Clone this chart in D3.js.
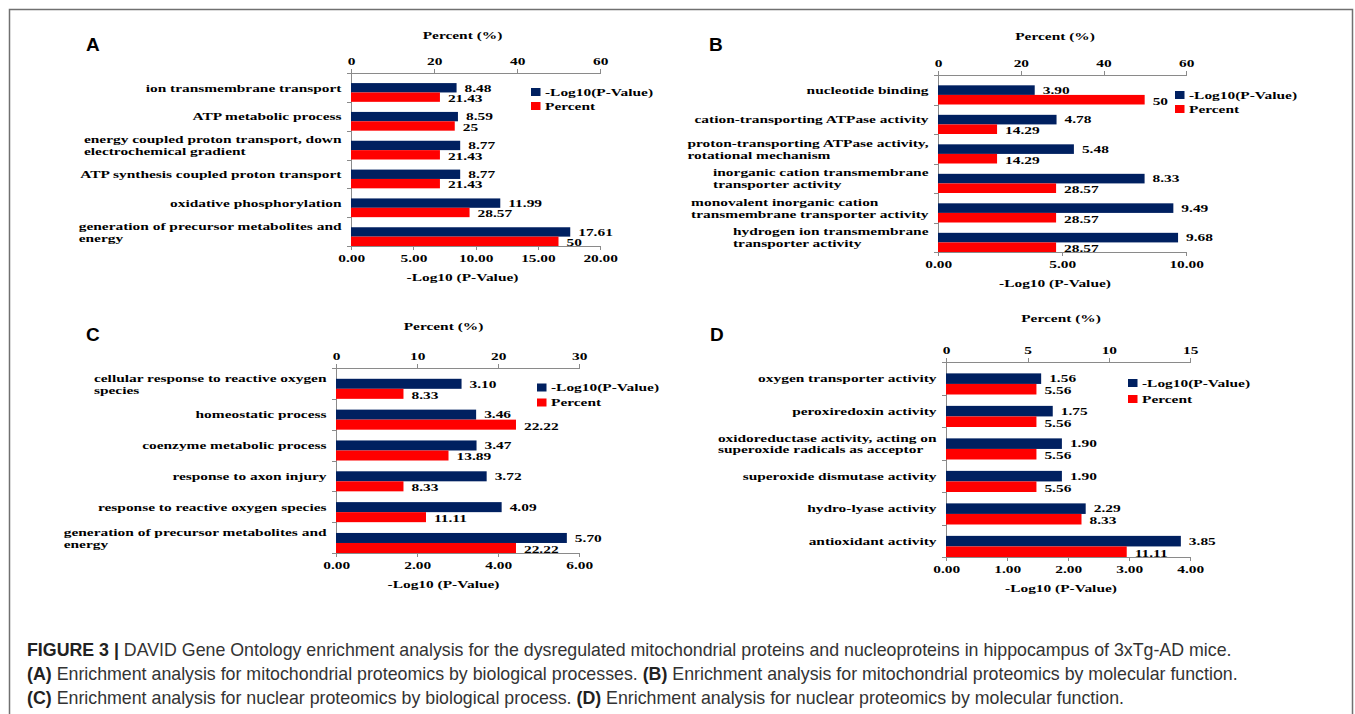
<!DOCTYPE html>
<html>
<head>
<meta charset="utf-8">
<script src="https://cdn.jsdelivr.net/npm/d3@7"></script>
<style>
  body { margin: 0; background: #fff; }
  .serif text { font-family: "Liberation Serif", "Times New Roman", serif; font-weight: bold; font-size: 11px; fill: #000; }
  .ax path, .ax line { stroke: #8a8a8a; vector-effect: non-scaling-stroke; shape-rendering: crispEdges; }
</style>
</head>
<body>
<svg id="fig" width="1355" height="714"></svg>
<script>
// ---- data ----
const catsA = ["ion transmembrane transport", "ATP metabolic process",
  "energy coupled proton transport, down\nelectrochemical gradient",
  "ATP synthesis coupled proton transport", "oxidative phosphorylation",
  "generation of precursor metabolites and\nenergy"];
const pvalA = [8.48, 8.59, 8.77, 8.77, 11.99, 17.61];
const pctA = [21.43, 25, 21.43, 21.43, 28.57, 50];

const catsB = ["nucleotide binding", "cation-transporting ATPase activity",
  "proton-transporting ATPase activity,\nrotational mechanism",
  "inorganic cation transmembrane\ntransporter activity",
  "monovalent inorganic cation\ntransmembrane transporter activity",
  "hydrogen ion transmembrane\ntransporter activity"];
const pvalB = [3.90, 4.78, 5.48, 8.33, 9.49, 9.68];
const pctB = [50, 14.29, 14.29, 28.57, 28.57, 28.57];

const catsC = ["cellular response to reactive oxygen\nspecies", "homeostatic process",
  "coenzyme metabolic process", "response to axon injury",
  "response to reactive oxygen species",
  "generation of precursor metabolites and\nenergy"];
const pvalC = [3.10, 3.46, 3.47, 3.72, 4.09, 5.70];
const pctC = [8.33, 22.22, 13.89, 8.33, 11.11, 22.22];

const catsD = ["oxygen transporter activity", "peroxiredoxin activity",
  "oxidoreductase activity, acting on\nsuperoxide radicals as acceptor",
  "superoxide dismutase activity", "hydro-lyase activity", "antioxidant activity"];
const pvalD = [1.56, 1.75, 1.90, 1.90, 2.29, 3.85];
const pctD = [5.56, 5.56, 5.56, 5.56, 8.33, 11.11];

const pvTicksA = [0, 5, 10, 15, 20], pctTicksA = [0, 20, 40, 60];
const pvTicksB = [0, 5, 10], pctTicksB = [0, 20, 40, 60];
const pvTicksC = [0, 2, 4, 6], pctTicksC = [0, 10, 20, 30];
const pvTicksD = [0, 1, 2, 3, 4], pctTicksD = [0, 5, 10, 15];

const seriesNames = ["-Log10(P-Value)", "Percent"];
const colors = ["#002060", "#ff0000"];

// ---- layout of the four panels (outer pixel coords) ----
const panels = [
  { id: "A", cats: catsA, pv: pvalA, pct: pctA, pvT: pvTicksA, pctT: pctTicksA,
    x0: 351, x1: 600, y0: 73, y1: 246, lx: 86, ly: 51, legDx: -69, legDy: 19, legGap: 14, tDx: -13, pDy: -38 },
  { id: "B", cats: catsB, pv: pvalB, pct: pctB, pvT: pvTicksB, pctT: pctTicksB,
    x0: 938, x1: 1186, y0: 75, y1: 252, lx: 709, ly: 51, legDx: -11, legDy: 20, legGap: 14, tDx: -7, pDy: -39 },
  { id: "C", cats: catsC, pv: pvalC, pct: pctC, pvT: pvTicksC, pctT: pctTicksC,
    x0: 336, x1: 579, y0: 368, y1: 553, lx: 86, ly: 341, legDx: -42, legDy: 19.5, legGap: 15, tDx: -14, pDy: -42 },
  { id: "D", cats: catsD, pv: pvalD, pct: pctD, pvT: pvTicksD, pctT: pctTicksD,
    x0: 946, x1: 1190, y0: 362, y1: 557, lx: 710, ly: 341, legDx: -62, legDy: 21, legGap: 16, tDx: -7, pDy: -44 }
];
const sx = 1.4; // the original figure is stretched horizontally

const svg = d3.select("#fig");

// frame
svg.append("path")
  .attr("d", "M9.5,714 V9.5 H1352.5 V714")
  .attr("fill", "none").attr("stroke", "#707070").attr("stroke-width", 1.5);

panels.forEach(drawPanel);

function drawPanel(p) {
  svg.append("text")
    .attr("x", p.lx).attr("y", p.ly)
    .style("font-family", "'Liberation Sans', Arial, sans-serif")
    .style("font-weight", "bold").style("font-size", "19px")
    .text(p.id);

  const w = (p.x1 - p.x0) / sx;
  const h = p.y1 - p.y0;
  const g = svg.append("g").attr("class", "serif")
    .attr("transform", `translate(${p.x0},${p.y0}) scale(${sx},1)`);

  const xPv = d3.scaleLinear().domain(d3.extent(p.pvT)).range([0, w]);
  const xPct = d3.scaleLinear().domain(d3.extent(p.pctT)).range([0, w]);
  const n = p.cats.length;
  const y = d3.scaleBand().domain(d3.range(n)).range([0, h]);
  const bw = y.bandwidth();
  const sub = d3.scaleBand().domain([0, 1]).range([bw * 0.35, bw]);

  // axes
  g.append("g").attr("class", "ax")
    .call(d3.axisTop(xPct).tickValues(p.pctT).tickFormat(d3.format("d"))
      .tickSize(4).tickPadding(4));
  g.append("g").attr("class", "ax").attr("transform", `translate(0,${h})`)
    .call(d3.axisBottom(xPv).tickValues(p.pvT).tickFormat(d3.format(".2f"))
      .tickSize(4).tickPadding(4));
  const yb = d3.scaleLinear().domain([0, n]).range([0, h]);
  g.append("g").attr("class", "ax")
    .call(d3.axisLeft(yb).tickValues(d3.range(n + 1)).tickFormat("")
      .tickSize(4 / sx).tickSizeOuter(0));
  g.selectAll(".ax text").attr("fill", "#000").style("font-size", "11px")
    .style("font-family", "'Liberation Serif', 'Times New Roman', serif");

  // bars
  const rows = g.selectAll(".row").data(p.cats).join("g")
    .attr("transform", (d, i) => `translate(0,${y(i)})`);
  rows.append("rect")
    .attr("x", 0).attr("y", sub(0)).attr("height", sub.bandwidth())
    .attr("width", (d, i) => xPv(p.pv[i])).attr("fill", colors[0]);
  rows.append("rect")
    .attr("x", 0).attr("y", sub(1)).attr("height", sub.bandwidth())
    .attr("width", (d, i) => xPct(p.pct[i])).attr("fill", colors[1]);
  rows.append("text")
    .attr("x", (d, i) => xPv(p.pv[i]) + 8 / sx).attr("y", sub(0) + sub.bandwidth() / 2)
    .attr("dy", "0.35em").text((d, i) => p.pv[i].toFixed(2));
  rows.append("text")
    .attr("x", (d, i) => xPct(p.pct[i]) + 8 / sx).attr("y", sub(1) + sub.bandwidth() / 2 + 1)
    .attr("dy", "0.35em").text((d, i) => String(p.pct[i]));

  // category labels (multi-line blocks are left aligned, right edge near axis)
  const right = -9.5 / sx;
  rows.each(function (d, i) {
    const lines = d.split("\n");
    const cy = sub(0) + sub.bandwidth() / 2;
    const t = d3.select(this).append("text");
    const spans = lines.map((s, k) => t.append("tspan")
      .attr("y", cy + (k - (lines.length - 1) / 2) * 12).attr("dy", "0.35em").text(s));
    const maxW = d3.max(spans, s => s.node().getComputedTextLength());
    spans.forEach(s => s.attr("x", right - maxW));
  });

  // legend
  const lg = g.append("g")
    .attr("transform", `translate(${(w * sx + p.legDx) / sx},${p.legDy})`);
  seriesNames.forEach((name, k) => {
    lg.append("rect").attr("x", 0).attr("y", k * p.legGap - 4)
      .attr("width", 9.5 / sx).attr("height", 8).attr("fill", colors[k]);
    lg.append("text").attr("x", 14 / sx).attr("y", k * p.legGap).attr("dy", "0.35em").text(name);
  });

  // axis titles
  const cx = (w * sx / 2 + p.tDx) / sx;
  g.append("text").attr("x", cx).attr("y", p.pDy).attr("dy", "0.35em")
    .attr("text-anchor", "middle").text("Percent (%)");
  g.append("text").attr("x", cx).attr("y", h + 31).attr("dy", "0.35em")
    .attr("text-anchor", "middle").text("-Log10 (P-Value)");
}

// caption
const caption = [
  [["FIGURE 3 | ", true], ["DAVID Gene Ontology enrichment analysis for the dysregulated mitochondrial proteins and nucleoproteins in hippocampus of 3xTg-AD mice.", false]],
  [["(A)", true], [" Enrichment analysis for mitochondrial proteomics by biological processes. ", false], ["(B)", true], [" Enrichment analysis for mitochondrial proteomics by molecular function.", false]],
  [["(C)", true], [" Enrichment analysis for nuclear proteomics by biological process. ", false], ["(D)", true], [" Enrichment analysis for nuclear proteomics by molecular function.", false]]
];
caption.forEach((parts, k) => {
  const t = svg.append("text").attr("x", 27).attr("y", 655.5 + k * 24)
    .style("font-family", "'Liberation Sans', Arial, sans-serif").style("font-size", "17.8px")
    .attr("fill", "#333");
  parts.forEach(([s, b]) => t.append("tspan").text(s)
    .style("font-weight", b ? "bold" : "normal").attr("fill", b ? "#222" : "#333"));
});
</script>
</body>
</html>
